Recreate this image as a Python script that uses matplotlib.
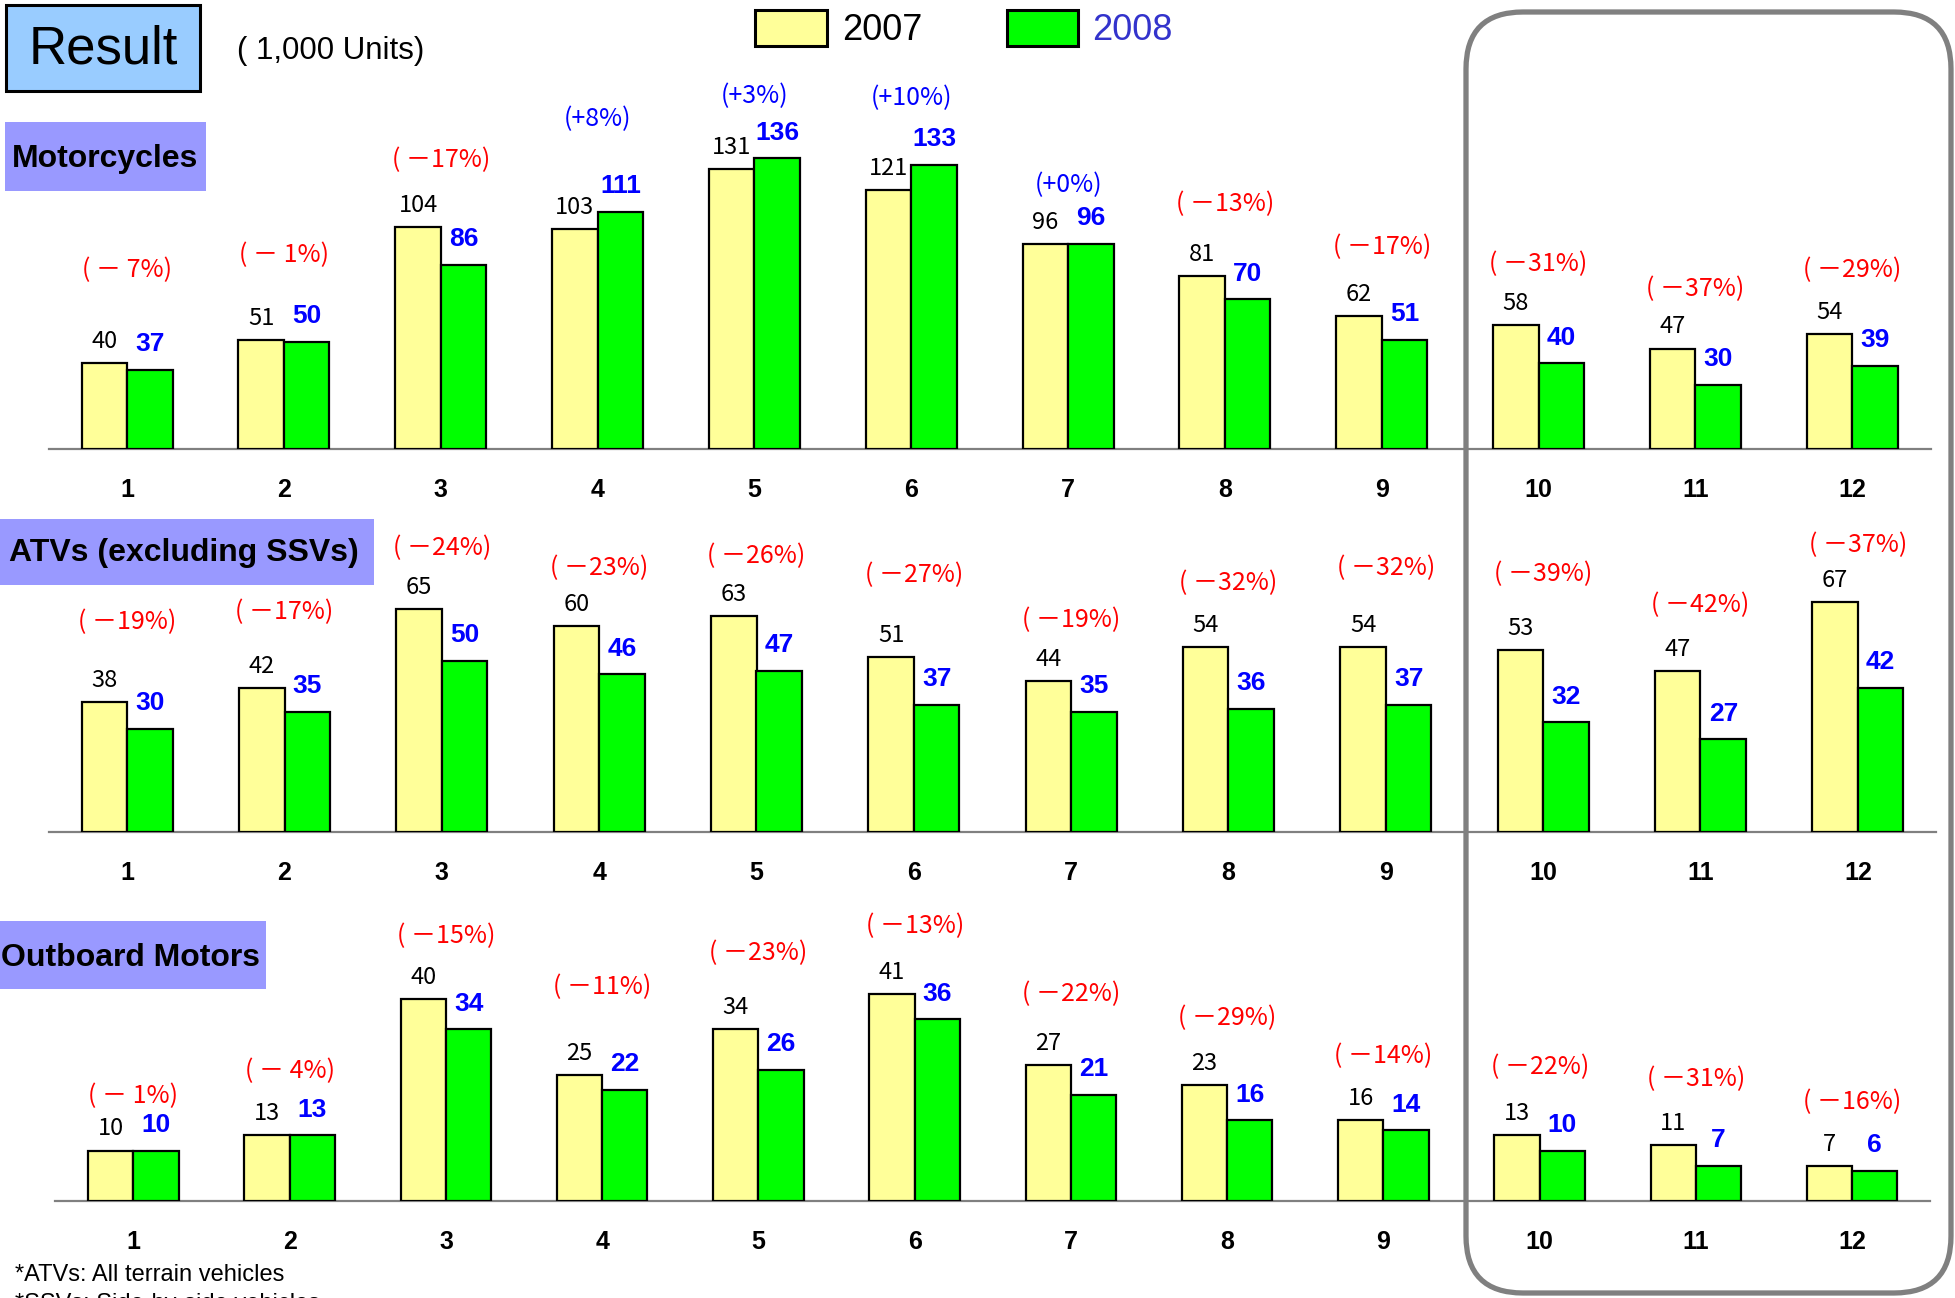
import matplotlib
matplotlib.use('Agg')
import matplotlib.pyplot as plt
from matplotlib.patches import Rectangle, FancyBboxPatch
import numpy as np

# ---------------------------------------------------------------
# monthly unit sales (1,000 units), 2007 vs 2008
# ---------------------------------------------------------------
months = ['1', '2', '3', '4', '5', '6', '7', '8', '9', '10', '11', '12']

moto_2007 = [40, 51, 104, 103, 131, 121, 96, 81, 62, 58, 47, 54]
moto_2008 = [37, 50, 86, 111, 136, 133, 96, 70, 51, 40, 30, 39]
moto_pct = [-7, -1, -17, 8, 3, 10, 0, -13, -17, -31, -37, -29]

atv_2007 = [38, 42, 65, 60, 63, 51, 44, 54, 54, 53, 47, 67]
atv_2008 = [30, 35, 50, 46, 47, 37, 35, 36, 37, 32, 27, 42]
atv_pct = [-19, -17, -24, -23, -26, -27, -19, -32, -32, -39, -42, -37]

obm_2007 = [10, 13, 40, 25, 34, 41, 27, 23, 16, 13, 11, 7]
obm_2008 = [10, 13, 34, 22, 26, 36, 21, 16, 14, 10, 7, 6]
obm_pct = [-1, -4, -15, -11, -23, -13, -22, -29, -14, -22, -31, -16]

# ---------------------------------------------------------------
W, H = 1955, 1298
fig = plt.figure(figsize=(W / 100, H / 100), dpi=100)
fig.patch.set_facecolor('white')

YELLOW = '#FFFF99'
GREEN = '#00FF00'
BLUE = '#0000FF'
RED = '#FF0000'
GRAY = '#808080'
JP = ['Noto Sans CJK JP', 'DejaVu Sans']
SANS = ['Liberation Sans', 'DejaVu Sans']
NARROW = ['Liberation Sans Narrow', 'Liberation Sans', 'DejaVu Sans']

# panel layout in pixels: left, width, baseline y, pixels per unit, axes height
# plus how high (points) each % label sits over the taller bar
panels = [
    dict(v07=moto_2007, v08=moto_2008, pct=moto_pct,
         left=48.7, width=1882, base=449, ppu=2.138, height=400,
         lift=[67, 61, 48, 67, 45, 48, 42, 52, 50, 44, 43, 46]),
    dict(v07=atv_2007, v08=atv_2008, pct=atv_pct,
         left=48.5, width=1888, base=832, ppu=3.429, height=330,
         lift=[57, 55, 44, 42, 43, 59, 44, 46, 57, 55, 47, 41]),
    dict(v07=obm_2007, v08=obm_2008, pct=obm_pct,
         left=55.3, width=1875, base=1201, ppu=5.05, height=300,
         lift=[39, 46, 45, 63, 55, 49, 51, 48, 46, 49, 48, 46]),
]

bw = 0.29
x = np.arange(1, 13)


def pct_label(d):
    if d >= 0:
        return '(+%d%%)' % d, BLUE
    if d > -10:
        return '( － %d%%)' % (-d), RED
    return '( －%d%%)' % (-d), RED


for p in panels:
    ax = fig.add_axes([p['left'] / W, 1 - p['base'] / H, p['width'] / W, p['height'] / H])
    ax.set_xlim(0.5, 12.5)
    ax.set_ylim(0, p['height'] / p['ppu'])
    ax.patch.set_alpha(0)
    for s in ['top', 'right', 'left']:
        ax.spines[s].set_visible(False)
    ax.spines['bottom'].set_color(GRAY)
    ax.spines['bottom'].set_linewidth(1.6)
    ax.set_yticks([])
    ax.set_xticks(x, months)
    ax.tick_params(axis='x', length=0, pad=21)
    for lab in ax.get_xticklabels():
        lab.set_fontsize(18)
        lab.set_fontweight('bold')
        lab.set_family(NARROW)

    ax.bar(x - bw / 2, p['v07'], bw, color=YELLOW, edgecolor='black', linewidth=1.6, zorder=3)
    ax.bar(x + bw / 2, p['v08'], bw, color=GREEN, edgecolor='black', linewidth=1.6, zorder=3)

    for i in range(12):
        a, b = p['v07'][i], p['v08'][i]
        ax.annotate(str(a), (x[i] - bw / 2, a), xytext=(0, 15.5), textcoords='offset points',
                    ha='center', va='center', fontsize=17, family=JP, color='black')
        ax.annotate(str(b), (x[i] + bw / 2, b), xytext=(0, 18.5), textcoords='offset points',
                    ha='center', va='center', fontsize=19, fontweight='bold',
                    family=SANS, color=BLUE)
        txt, col = pct_label(p['pct'][i])
        ax.annotate(txt, (x[i], max(a, b)), xytext=(0, p['lift'][i]), textcoords='offset points',
                    ha='center', va='center', fontsize=18, family=JP, color=col)

# ---------------------------------------------------------------
# headings, legend, frame and notes drawn in pixel space
# ---------------------------------------------------------------
ov = fig.add_axes([0, 0, 1, 1])
ov.set_xlim(0, W)
ov.set_ylim(H, 0)
ov.axis('off')

ov.add_patch(Rectangle((6, 5), 194, 86, facecolor='#99CCFF', edgecolor='black', linewidth=2.2))
ov.text(103, 50, 'Result', fontsize=38, ha='center', va='center', family=SANS)
ov.text(237, 51, '( 1,000 Units)', fontsize=22.5, ha='left', va='center', family=SANS)

# legend keys
ov.add_patch(Rectangle((755, 10), 72, 36, facecolor=YELLOW, edgecolor='black', linewidth=2.2))
ov.text(842, 31, '2007', fontsize=26, ha='left', va='center', family=SANS)
ov.add_patch(Rectangle((1007, 10), 71, 36, facecolor=GREEN, edgecolor='black', linewidth=2.2))
ov.text(1092, 31, '2008', fontsize=26, ha='left', va='center', color='#3333CC', family=SANS)

# category headings
heads = [('Motorcycles', 5, 122, 201, 69, 12, 159),
         ('ATVs (excluding SSVs)', 0, 519, 374, 66, 9, 553),
         ('Outboard Motors', 0, 921, 266, 68, 1, 958)]
for name, bx, by, bwid, bh, tx, ty in heads:
    ov.add_patch(Rectangle((bx, by), bwid, bh, facecolor='#9999FF', edgecolor='none'))
    ov.text(tx, ty, name, fontsize=23, fontweight='bold', ha='left', va='center', family=SANS)

# rounded frame around months 10-12
ov.add_patch(FancyBboxPatch((1466, 12), 485, 1281, boxstyle='round,pad=0,rounding_size=57',
                            facecolor='none', edgecolor=GRAY, linewidth=3.8))

ov.text(15, 1275, '*ATVs: All terrain vehicles', fontsize=17, ha='left', va='center', family=SANS)
ov.text(15, 1304, '*SSVs: Side-by-side vehicles', fontsize=17, ha='left', va='center', family=SANS)

fig.savefig('out.png', dpi=100)
